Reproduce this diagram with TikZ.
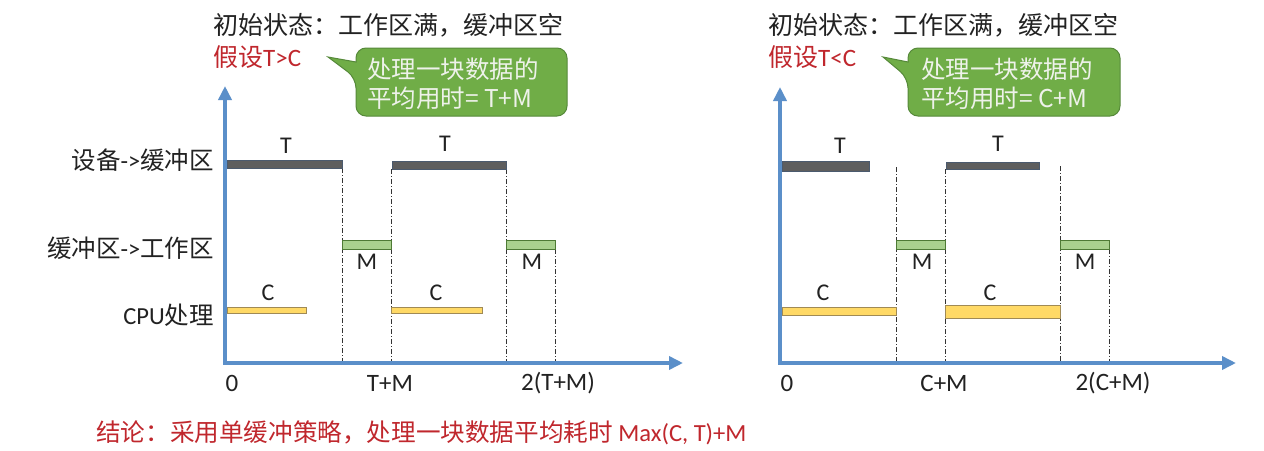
\documentclass[tikz,border=0pt]{standalone}
\usepackage{fontspec}
\setmainfont{Carlito}
\newfontfamily\cjk{Noto Sans CJK SC}
\usetikzlibrary{arrows.meta}
\definecolor{axisblue}{HTML}{5B8FC9}
\definecolor{tgray}{HTML}{5E5E5E}
\definecolor{tedge}{HTML}{4B5A6E}
\definecolor{mfill}{HTML}{A9D18E}
\definecolor{medge}{HTML}{4E7A35}
\definecolor{cfill}{HTML}{FFD966}
\definecolor{cedge}{HTML}{A08A55}
\definecolor{callfill}{HTML}{70AD47}
\definecolor{calledge}{HTML}{56893A}
\definecolor{calltext}{HTML}{EEF2EA}
\definecolor{redtext}{HTML}{C0272D}
\definecolor{darktext}{HTML}{222222}
\tikzset{
  axisline/.style={draw=axisblue, line width=3.5pt, line join=miter,
    {Triangle[length=14pt,width=13pt]}-{Triangle[length=14pt,width=13pt]}},
  tbar/.style={fill=tgray, draw=tedge, line width=0.8pt},
  mbar/.style={fill=mfill, draw=medge, line width=0.8pt},
  cbar/.style={fill=cfill, draw=cedge, line width=0.8pt},
  guide/.style={draw=black!80, line width=0.6pt, dash pattern=on 5pt off 2pt on 1pt off 2pt},
  callbox/.style={fill=callfill, draw=calledge, line width=1pt},
  calltxt/.style={text=calltext, font=\cjk\fontsize{24.5}{29}\selectfont, align=left, inner sep=0pt, anchor=west},
  title/.style={text=darktext, font=\cjk\fontsize{25}{26}\selectfont, inner sep=0pt, anchor=west},
  assume/.style={text=redtext, font=\fontsize{25}{26}\selectfont, inner sep=0pt, anchor=west},
  rowlbl/.style={text=darktext, font=\fontsize{24.5}{26}\selectfont, inner sep=0pt, anchor=east},
  ticklbl/.style={text=darktext, font=\fontsize{25}{26}\selectfont, inner sep=0pt},
  barlbl/.style={text=darktext, font=\fontsize{24}{26}\selectfont, inner sep=0pt},
  concl/.style={text=redtext, font=\fontsize{24.6}{26}\selectfont, inner sep=0pt, anchor=west}
}
\begin{document}
\begin{tikzpicture}[x=1pt,y=-1pt]
\useasboundingbox[fill=white] (0,0) rectangle (1264,450);

% ================= LEFT CHART =================
\node[title] (Ltitle) at (213,25) {初始状态：工作区满，缓冲区空};
\node[assume] (Lassume) at (213,57) {{\cjk 假设}T>C};
\draw[callbox] (356,62) [rounded corners=10pt] -- (356,48) -- (567,48) -- (567,116) -- (356,116) -- (356,78) [sharp corners] -- (328,57) -- cycle;
\node[calltxt] (Lcall) at (367,84) {处理一块数据的\\平均用时= T+M};

\node[rowlbl] (Lr1) at (214,160) {{\cjk 设备}->{\cjk 缓冲区}};
\node[rowlbl] (Lr2) at (214,248) {{\cjk 缓冲区}->{\cjk 工作区}};
\node[rowlbl] (Lr3) at (214,315) {CPU{\cjk 处理}};

% guides
\coordinate (Lg1t) at (342,168); \coordinate (Lg1b) at (342,363);
\coordinate (Lg2t) at (391,169); \coordinate (Lg2b) at (391,363);
\coordinate (Lg3t) at (506,169); \coordinate (Lg3b) at (506,363);
\coordinate (Lg4t) at (555,249); \coordinate (Lg4b) at (555,363);
\draw[guide] (Lg1t) -- (Lg1b);
\draw[guide] (Lg2t) -- (Lg2b);
\draw[guide] (Lg3t) -- (Lg3b);
\draw[guide] (Lg4t) -- (Lg4b);

% bars
\draw[tbar] (227,160) rectangle (342,168);
\draw[tbar] (392,161) rectangle (506,169);
\draw[mbar] (342,240) rectangle (391,249);
\draw[mbar] (506,240) rectangle (555,249);
\draw[cbar] (227,307) rectangle (306,313);
\draw[cbar] (391,307) rectangle (482,313);

\node[barlbl] (LT1) at (286,146) {T};
\node[barlbl] (LT2) at (445,144) {T};
\node[barlbl] (LM1) at (367,262) {M};
\node[barlbl] (LM2) at (532,262) {M};
\node[barlbl] (LC1) at (268,293) {C};
\node[barlbl] (LC2) at (436,293) {C};

% axes
\coordinate (Ly) at (225,86);
\coordinate (Lo) at (225,363);
\coordinate (Lx) at (683,363);
\draw[axisline] (Ly) -- (Lo) -- (Lx);

\node[ticklbl] (L0) at (232,383) {0};
\node[ticklbl] (L1) at (390,383) {T+M};
\node[ticklbl] (L2) at (558,383) {2(T+M)};

\node[concl] (Concl) at (96,433) {{\cjk 结论：采用单缓冲策略，处理一块数据平均耗时} Max(C, T)+M};

% ================= RIGHT CHART =================
\node[title] (Rtitle) at (768,25) {初始状态：工作区满，缓冲区空};
\node[assume] (Rassume) at (768,57) {{\cjk 假设}T<C};
\draw[callbox] (908,62) [rounded corners=10pt] -- (908,48) -- (1120,48) -- (1120,116) -- (908,116) -- (908,78) [sharp corners] -- (883,57) -- cycle;
\node[calltxt] (Rcall) at (921,84) {处理一块数据的\\平均用时= C+M};

\coordinate (Rg1t) at (896,167); \coordinate (Rg1b) at (896,363);
\coordinate (Rg2t) at (945,169); \coordinate (Rg2b) at (945,363);
\coordinate (Rg3t) at (1060,166); \coordinate (Rg3b) at (1060,363);
\coordinate (Rg4t) at (1109,249); \coordinate (Rg4b) at (1109,363);
\draw[guide] (Rg1t) -- (Rg1b);
\draw[guide] (Rg2t) -- (Rg2b);
\draw[guide] (Rg3t) -- (Rg3b);
\draw[guide] (Rg4t) -- (Rg4b);

\draw[tbar] (782,161) rectangle (869,171);
\draw[tbar] (946,162) rectangle (1039,169);
\draw[mbar] (896,240) rectangle (945,249);
\draw[mbar] (1060,240) rectangle (1109,249);
\draw[cbar] (782,307) rectangle (896,315);
\draw[cbar] (945,305) rectangle (1060,318);

\node[barlbl] (RT1) at (840,146) {T};
\node[barlbl] (RT2) at (998,144) {T};
\node[barlbl] (RM1) at (922,262) {M};
\node[barlbl] (RM2) at (1085,262) {M};
\node[barlbl] (RC1) at (823,293) {C};
\node[barlbl] (RC2) at (990,293) {C};

\coordinate (Ry) at (780,87);
\coordinate (Ro) at (780,363);
\coordinate (Rx) at (1236,363);
\draw[axisline] (Ry) -- (Ro) -- (Rx);

\node[ticklbl] (R0) at (787,383) {0};
\node[ticklbl] (R1) at (944,383) {C+M};
\node[ticklbl] (R2) at (1113,383) {2(C+M)};
\end{tikzpicture}
\end{document}
